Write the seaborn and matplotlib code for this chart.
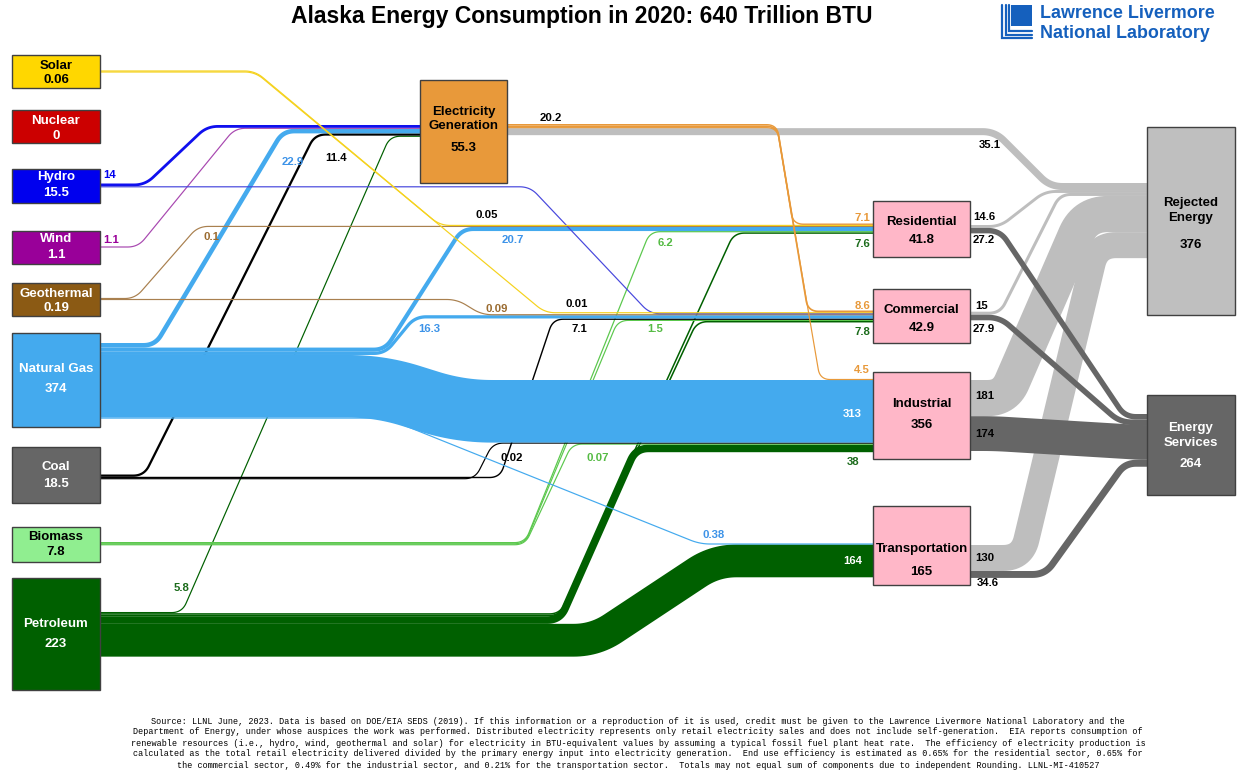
import numpy as np
import matplotlib
matplotlib.use("Agg")
import matplotlib.pyplot as plt
from matplotlib.patches import Rectangle
import seaborn as sns

# ---- data (trillion BTU) ----
source_names = ["Solar", "Nuclear", "Hydro", "Wind", "Geothermal",
                "Natural Gas", "Coal", "Biomass", "Petroleum"]
source_totals = [0.06, 0, 15.5, 1.1, 0.19, 374, 18.5, 7.8, 223]
sector_names = ["Residential", "Commercial", "Industrial", "Transportation"]
sector_totals = [41.8, 42.9, 356, 165]
elec_total = 55.3
rejected_total = 376
services_total = 264

# flows, listed in stacking order
flow_src = ["Elec", "Elec", "Elec", "Elec",
            "Solar", "Solar", "Hydro", "Hydro", "Wind",
            "Geothermal", "Geothermal",
            "Natural Gas", "Natural Gas", "Natural Gas", "Natural Gas", "Natural Gas",
            "Coal", "Coal", "Coal", "Biomass", "Biomass", "Biomass",
            "Petroleum", "Petroleum", "Petroleum", "Petroleum", "Petroleum",
            "Residential", "Residential", "Commercial", "Commercial",
            "Industrial", "Industrial", "Transportation", "Transportation"]
flow_dst = ["Residential", "Commercial", "Industrial", "Rejected",
            "Residential", "Commercial", "Elec", "Commercial", "Elec",
            "Residential", "Commercial",
            "Elec", "Residential", "Commercial", "Industrial", "Transportation",
            "Elec", "Commercial", "Industrial", "Residential", "Commercial", "Industrial",
            "Elec", "Residential", "Commercial", "Industrial", "Transportation",
            "Rejected", "Services", "Rejected", "Services",
            "Rejected", "Services", "Rejected", "Services"]
flow_val = [7.1, 8.6, 4.5, 35.1,
            0.05, 0.01, 14, 1.5, 1.1,
            0.1, 0.09,
            22.9, 20.7, 16.3, 313, 0.38,
            11.4, 7.1, 0.02, 6.2, 1.5, 0.07,
            5.8, 7.6, 7.8, 38, 164,
            14.6, 27.2, 15, 27.9,
            181, 174, 130, 34.6]

# ---- layout ----
SCALE = 0.2  # px per trillion BTU
nodes = {  # x0, y0, x1, y1, face, text colour
    "Solar": (12, 55, 100, 88, "#FFD700", "black"),
    "Nuclear": (12, 110, 100, 143, "#CC0000", "white"),
    "Hydro": (12, 169, 100, 203, "#0000EE", "white"),
    "Wind": (12, 231, 100, 264, "#990099", "white"),
    "Geothermal": (12, 283, 100, 316, "#8B5A14", "white"),
    "Natural Gas": (12, 333, 100, 427, "#44AAEE", "white"),
    "Coal": (12, 447, 100, 503, "#666666", "white"),
    "Biomass": (12, 527, 100, 562, "#90EE90", "black"),
    "Petroleum": (12, 578, 100, 690, "#006000", "white"),
    "Elec": (420, 80, 507, 183, "#E8993A", "black"),
    "Residential": (873, 201, 970, 257, "#FFB7C8", "black"),
    "Commercial": (873, 289, 970, 343, "#FFB7C8", "black"),
    "Industrial": (873, 372, 970, 459, "#FFB7C8", "black"),
    "Transportation": (873, 506, 970, 585, "#FFB7C8", "black"),
    "Rejected": (1147, 127, 1235, 315, "#BFBFBF", "black"),
    "Services": (1147, 395, 1235, 495, "#666666", "white"),
}
# name y, value y
node_text_y = {
    "Solar": (66, 80), "Nuclear": (121, 136), "Hydro": (177, 193),
    "Wind": (239, 255), "Geothermal": (294, 308), "Natural Gas": (369, 389),
    "Coal": (467, 484), "Biomass": (537, 552), "Petroleum": (624, 644),
    "Elec": (119, 148), "Residential": (222, 240), "Commercial": (310, 328),
    "Industrial": (404, 425), "Transportation": (549, 572),
    "Rejected": (210.5, 245), "Services": (435.5, 464),
}
display_name = {"Elec": "Electricity\nGeneration", "Rejected": "Rejected\nEnergy",
                "Services": "Energy\nServices"}
out_y0 = {"Solar": 70.5, "Hydro": 183.5, "Wind": 246.5, "Geothermal": 298,
          "Natural Gas": 343, "Coal": 474.5, "Biomass": 542, "Petroleum": 612,
          "Elec": 124, "Residential": 225, "Commercial": 311.7,
          "Industrial": 380, "Transportation": 545}
in_y0 = {"Elec": 125, "Residential": 223.5, "Commercial": 310.5, "Industrial": 379,
         "Transportation": 543.5, "Rejected": 183, "Services": 414}
# x where each flow starts / ends its diagonal
bend_x = {
    ("Elec", "Residential"): (777, 793), ("Elec", "Commercial"): (777, 808),
    ("Elec", "Industrial"): (777, 820), ("Elec", "Rejected"): (995, 1050),
    ("Solar", "Residential"): (255, 440), ("Solar", "Commercial"): (255, 545),
    ("Hydro", "Elec"): (145, 207), ("Hydro", "Commercial"): (530, 650),
    ("Wind", "Elec"): (138, 235),
    ("Geothermal", "Residential"): (135, 198), ("Geothermal", "Commercial"): (457, 482),
    ("Natural Gas", "Elec"): (155, 283), ("Natural Gas", "Residential"): (385, 462),
    ("Natural Gas", "Commercial"): (385, 415), ("Natural Gas", "Industrial"): (380, 460),
    ("Natural Gas", "Transportation"): (386, 700),
    ("Coal", "Elec"): (144, 315), ("Coal", "Commercial"): (500, 553),
    ("Coal", "Industrial"): (475, 493),
    ("Biomass", "Residential"): (525, 650), ("Biomass", "Commercial"): (525, 618),
    ("Biomass", "Industrial"): (525, 572),
    ("Petroleum", "Elec"): (182, 390), ("Petroleum", "Residential"): (560, 734),
    ("Petroleum", "Commercial"): (560, 697), ("Petroleum", "Industrial"): (560, 636),
    ("Petroleum", "Transportation"): (595, 715),
    ("Residential", "Rejected"): (1000, 1045), ("Residential", "Services"): (1000, 1125),
    ("Commercial", "Rejected"): (1000, 1060), ("Commercial", "Services"): (1000, 1120),
    ("Industrial", "Rejected"): (1005, 1085), ("Industrial", "Services"): (995, 1140),
    ("Transportation", "Rejected"): (1022, 1097), ("Transportation", "Services"): (1045, 1125),
}
line_color = {"Solar": "#F5D21E", "Hydro": "#1010EE", "Wind": "#A848B0",
              "Geothermal": "#A9804F", "Natural Gas": "#44AAEE", "Coal": "black",
              "Biomass": "#5CC84E", "Petroleum": "#006000", "Elec": "#E8993A"}
special_color = {("Hydro", "Commercial"): "#4848DD"}

BLUE_T, GREEN_T, DGREEN_T = "#3D93E8", "#55BB44", "#1B6B1B"
ORANGE_T, BROWN_T = "#E8993A", "#9A6B30"
label_pos = {
    ("Hydro", "Elec"): (103, 175, "left", "#0000EE"),
    ("Wind", "Elec"): (103, 240, "left", "#990099"),
    ("Geothermal", "Residential"): (211, 237, "center", BROWN_T),
    ("Natural Gas", "Elec"): (293, 162, "center", BLUE_T),
    ("Coal", "Elec"): (336, 158, "center", "black"),
    ("Elec", "Rejected"): (990, 145, "center", "black"),
    ("Solar", "Residential"): (487, 215, "center", "black"),
    ("Natural Gas", "Residential"): (513, 240, "center", BLUE_T),
    ("Biomass", "Residential"): (665, 243, "center", GREEN_T),
    ("Elec", "Residential"): (870, 218, "right", ORANGE_T),
    ("Petroleum", "Residential"): (870, 244, "right", DGREEN_T),
    ("Residential", "Rejected"): (973, 217, "left", "black"),
    ("Residential", "Services"): (973, 240, "left", "black"),
    ("Geothermal", "Commercial"): (497, 309, "center", BROWN_T),
    ("Solar", "Commercial"): (577, 304, "center", "black"),
    ("Natural Gas", "Commercial"): (429, 329, "center", BLUE_T),
    ("Coal", "Commercial"): (579, 329, "center", "black"),
    ("Biomass", "Commercial"): (655, 329, "center", GREEN_T),
    ("Elec", "Commercial"): (870, 306, "right", ORANGE_T),
    ("Petroleum", "Commercial"): (870, 332, "right", DGREEN_T),
    ("Commercial", "Rejected"): (975, 306, "left", "black"),
    ("Commercial", "Services"): (973, 329, "left", "black"),
    ("Elec", "Industrial"): (870, 370, "right", ORANGE_T),
    ("Natural Gas", "Industrial"): (862, 414, "right", "white"),
    ("Industrial", "Rejected"): (975, 396, "left", "black"),
    ("Industrial", "Services"): (975, 434, "left", "black"),
    ("Coal", "Industrial"): (512, 458, "center", "black"),
    ("Biomass", "Industrial"): (598, 458, "center", GREEN_T),
    ("Petroleum", "Industrial"): (853, 462, "center", DGREEN_T),
    ("Natural Gas", "Transportation"): (714, 535, "center", BLUE_T),
    ("Petroleum", "Transportation"): (862, 561, "right", "white"),
    ("Transportation", "Rejected"): (975, 558, "left", "black"),
    ("Transportation", "Services"): (977, 583, "left", "black"),
    ("Petroleum", "Elec"): (182, 588, "center", DGREEN_T),
}

footer = [
    "Source: LLNL June, 2023. Data is based on DOE/EIA SEDS (2019). If this information or a reproduction of it is used, credit must be given to the Lawrence Livermore National Laboratory and the",
    "Department of Energy, under whose auspices the work was performed. Distributed electricity represents only retail electricity sales and does not include self-generation.  EIA reports consumption of",
    "renewable resources (i.e., hydro, wind, geothermal and solar) for electricity in BTU-equivalent values by assuming a typical fossil fuel plant heat rate.  The efficiency of electricity production is",
    "calculated as the total retail electricity delivered divided by the primary energy input into electricity generation.  End use efficiency is estimated as 0.65% for the residential sector, 0.65% for",
    "the commercial sector, 0.49% for the industrial sector, and 0.21% for the transportation sector.  Totals may not equal sum of components due to independent Rounding. LLNL-MI-410527",
]


def rounded(pts, r, n=16):
    pts = np.asarray(pts, float)
    out = [pts[0]]
    for i in range(1, len(pts) - 1):
        p0, p1, p2 = pts[i - 1], pts[i], pts[i + 1]
        v1, v2 = p1 - p0, p2 - p1
        l1, l2 = np.hypot(*v1), np.hypot(*v2)
        if l1 < 1e-9 or l2 < 1e-9:
            continue
        rr = min(r, l1 / 2, l2 / 2)
        a, b = p1 - v1 / l1 * rr, p1 + v2 / l2 * rr
        t = np.linspace(0, 1, n)[:, None]
        out.extend((1 - t) ** 2 * a + 2 * (1 - t) * t * p1 + t ** 2 * b)
    out.append(pts[-1])
    return np.array(out)


sns.set_theme(style="white")
plt.rcParams["font.family"] = ["Liberation Sans", "DejaVu Sans"]

fig = plt.figure(figsize=(12.38, 7.70), dpi=100)
ax = fig.add_axes([0, 0, 1, 1])

# stack flows at both ends
out_cum = dict(out_y0)
in_cum = dict(in_y0)
geo = []
for s, d, v in zip(flow_src, flow_dst, flow_val):
    w = max(v * SCALE, 1.0)
    ys = out_cum[s] + w / 2
    out_cum[s] += w
    yd = in_cum[d] + w / 2
    in_cum[d] += w
    geo.append((s, d, v, w, ys, yd))

sources_rev = source_names[::-1]
def draw_rank(i):
    s, d = flow_src[i], flow_dst[i]
    if s in sources_rev:
        return sources_rev.index(s)
    if s == "Elec":
        return 20 if d == "Rejected" else 21
    return 30 if d == "Rejected" else 31

order = sorted(range(len(geo)), key=lambda i: (draw_rank(i), -geo[i][3]))
for z, i in enumerate(order):
    s, d, v, w, ys, yd = geo[i]
    x0 = nodes[s][2]
    x1 = nodes[d][0]
    xa, xb = bend_x[(s, d)]
    if d == "Rejected":
        col = "#BEBEBE"
    elif d == "Services":
        col = "#666666"
    else:
        col = special_color.get((s, d), line_color[s])
    path = rounded([(x0, ys), (xa, ys), (xb, yd), (x1, yd)], 10 + 0.35 * w)
    sns.lineplot(x=path[:, 0], y=path[:, 1], sort=False, estimator=None,
                 color=col, linewidth=max(w, 1.2) * 0.72,
                 solid_capstyle="butt", solid_joinstyle="round",
                 zorder=2 + z * 0.01, ax=ax)

# boxes
totals = dict(zip(source_names, source_totals))
totals.update(dict(zip(sector_names, sector_totals)))
totals.update({"Elec": elec_total, "Rejected": rejected_total, "Services": services_total})
for name, (x0, y0, x1, y1, face, tc) in nodes.items():
    ax.add_patch(Rectangle((x0, y0), x1 - x0, y1 - y0, facecolor=face,
                           edgecolor="#404040", linewidth=1, zorder=10))
    ny, vy = node_text_y[name]
    cx = (x0 + x1) / 2
    ax.text(cx, ny, display_name.get(name, name), ha="center", va="center",
            fontsize=9.5, fontweight="bold", color=tc, linespacing=1.25, zorder=11)
    ax.text(cx, vy, f"{totals[name]:g}", ha="center", va="center",
            fontsize=9.5, fontweight="bold", color=tc, zorder=11)

# flow labels
for s, d, v, w, ys, yd in geo:
    if (s, d) in label_pos:
        x, y, ha, c = label_pos[(s, d)]
        ax.text(x, y, f"{v:g}", ha=ha, va="center", fontsize=8.2,
                fontweight="bold", color=c, zorder=12)
elec_to_sectors = sum(v for s, d, v in zip(flow_src, flow_dst, flow_val)
                      if s == "Elec" and d != "Rejected")
ax.text(551, 118, f"{elec_to_sectors:.1f}", ha="center", va="center",
        fontsize=8.2, fontweight="bold", color="black", zorder=12)

# title
ax.text(582, 17, "Alaska Energy Consumption in 2020: 640 Trillion BTU",
        ha="center", va="center", fontsize=16.5, fontweight="bold", color="black")

# LLNL logo
lblue = "#1560BD"
ax.add_patch(Rectangle((1011, 5), 21, 21, facecolor=lblue, edgecolor="none"))
for k in range(3):
    off = 2 + k * 3.5
    ax.plot([1000 + off, 1000 + off, 1032], [5, 40 - off, 40 - off],
            color=lblue, linewidth=1.6, solid_joinstyle="miter")
ax.text(1040, 14, "Lawrence Livermore", ha="left", va="center",
        fontsize=12.9, fontweight="bold", color=lblue)
ax.text(1040, 33, "National Laboratory", ha="left", va="center",
        fontsize=12.9, fontweight="bold", color=lblue)

# footer
for k, line in enumerate(footer):
    ax.text(638, 721 + k * 11, line, ha="center", va="center", fontsize=6.15,
            family="Liberation Mono", color="black")

ax.set_xlim(0, 1238)
ax.set_ylim(770, 0)
ax.axis("off")
fig.savefig("out.png", dpi=100, facecolor="white")
